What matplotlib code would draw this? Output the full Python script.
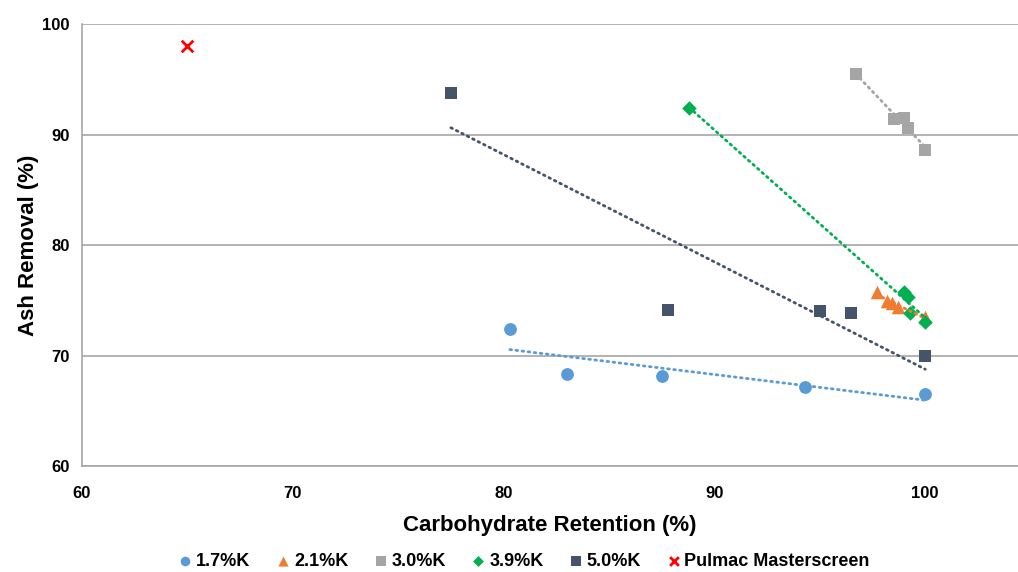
import numpy as np
import matplotlib.pyplot as plt

plt.rcParams['font.family'] = ['Liberation Sans', 'DejaVu Sans']
plt.rcParams['font.weight'] = 'bold'
plt.rcParams['axes.labelweight'] = 'bold'

# --- data ---
k17_x = [80.3, 83.0, 87.5, 94.3, 100.0]
k17_y = [72.4, 68.3, 68.2, 67.2, 66.5]

k21_x = [97.7, 98.2, 98.4, 98.7, 100.0]
k21_y = [75.8, 74.9, 74.8, 74.4, 73.5]

k30_x = [96.7, 98.5, 99.0, 99.2, 100.0]
k30_y = [95.5, 91.4, 91.5, 90.6, 88.6]

k39_x = [88.8, 99.0, 99.2, 99.3, 100.0]
k39_y = [92.4, 75.8, 75.3, 73.9, 73.0]

k50_x = [77.5, 87.8, 95.0, 96.5, 100.0]
k50_y = [93.8, 74.1, 74.0, 73.9, 70.0]

pulmac_x = [65.0]
pulmac_y = [98.0]

series = [
    ('1.7%K', k17_x, k17_y, '#5B9BD5', 'o', 85),
    ('2.1%K', k21_x, k21_y, '#ED7D31', '^', 95),
    ('3.0%K', k30_x, k30_y, '#A5A5A5', 's', 75),
    ('3.9%K', k39_x, k39_y, '#00B050', 'D', 55),
    ('5.0%K', k50_x, k50_y, '#44546A', 's', 75),
]

fig = plt.figure(figsize=(10.18, 5.72), dpi=100)
ax = fig.add_axes([0.0805, 0.185, 0.9195, 0.773])

for name, x, y, c, m, s in series:
    ax.scatter(x, y, s=s, marker=m, color=c, label=name, zorder=3, linewidths=0)
    # linear trendline (Excel style), from min x to max x
    p = np.polyfit(x, y, 1)
    xx = np.array([min(x), max(x)])
    ax.plot(xx, np.polyval(p, xx), color=c, lw=2, ls=(0, (0.6, 1.6)),
            dash_capstyle='round', zorder=4)

ax.scatter(pulmac_x, pulmac_y, s=70, marker='x', color='#FF0000', linewidths=2,
           label='Pulmac Masterscreen', zorder=3)

ax.set_xlim(60, 104.4)
ax.set_ylim(60, 100)
ax.set_xticks([60, 70, 80, 90, 100])
ax.set_yticks([60, 70, 80, 90, 100])
ax.tick_params(length=0, labelsize=12)
ax.tick_params(axis='y', pad=9)
ax.tick_params(axis='x', pad=14)
ax.grid(True, axis='y', color='#A6A6A6', lw=1.2)
ax.set_axisbelow(True)
for sp in ['top', 'right']:
    ax.spines[sp].set_visible(False)
for sp in ['left', 'bottom']:
    ax.spines[sp].set_color('#A6A6A6')
    ax.spines[sp].set_linewidth(1.2)

ax.set_xlabel('Carbohydrate Retention (%)', fontsize=16, labelpad=10)
ax.set_ylabel('Ash Removal (%)', fontsize=16, va='center')
ax.yaxis.set_label_coords(-0.057, 0.5)

fig.legend(loc='center', bbox_to_anchor=(0.513, 0.018), ncol=6, frameon=False,
           fontsize=13, handletextpad=0.0, columnspacing=1.2, handlelength=1.2,
           markerscale=0.75)

fig.savefig('out.png', dpi=100)
